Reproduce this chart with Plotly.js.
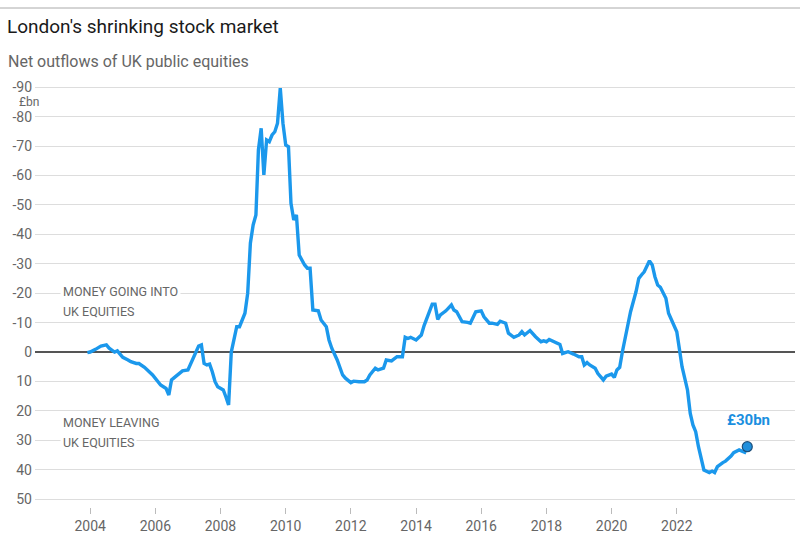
<!DOCTYPE html>
<html>
<head>
<meta charset="utf-8">
<script src="https://cdn.plot.ly/plotly-3.0.1.min.js"></script>
<style>
html,body{margin:0;padding:0;background:#fff;}
#chart{width:800px;height:542px;}
</style>
</head>
<body>
<div id="chart"></div>
<script>
// Net outflows of UK public equities, £bn (positive = money leaving)
const dates = [
 "2003-12","2004-01","2004-03","2004-05","2004-07","2004-08","2004-10","2004-11","2004-12",
 "2005-01","2005-03","2005-04","2005-06","2005-07","2005-09","2005-11","2005-12",
 "2006-03","2006-05","2006-06","2006-07","2006-08","2006-10","2006-11",
 "2007-01","2007-02","2007-04","2007-05","2007-06","2007-07","2007-08","2007-09","2007-10","2007-11","2007-12",
 "2008-02","2008-03","2008-04","2008-05","2008-07","2008-08","2008-10","2008-11","2008-12",
 "2009-01","2009-02","2009-03","2009-04","2009-05","2009-06","2009-07","2009-08","2009-09","2009-10","2009-11","2009-12",
 "2010-01","2010-02","2010-03","2010-04","2010-05","2010-06","2010-08","2010-09","2010-10","2010-11",
 "2011-01","2011-02","2011-04","2011-05","2011-06","2011-08","2011-10","2011-11",
 "2012-01","2012-02","2012-04","2012-06","2012-07","2012-08","2012-10","2012-11",
 "2013-01","2013-02","2013-04","2013-06","2013-08","2013-09","2013-10","2013-11",
 "2014-01","2014-03","2014-04","2014-06","2014-07","2014-08","2014-09","2014-10","2014-12",
 "2015-02","2015-03","2015-04","2015-06","2015-08","2015-09","2015-11",
 "2016-01","2016-02","2016-04","2016-05","2016-07","2016-08","2016-10","2016-11",
 "2017-01","2017-03","2017-04","2017-05","2017-07","2017-09","2017-11","2017-12",
 "2018-01","2018-02","2018-04","2018-06","2018-07","2018-09","2018-11",
 "2019-01","2019-02","2019-03","2019-04","2019-05","2019-07","2019-08","2019-10","2019-11",
 "2020-01","2020-02","2020-03","2020-04","2020-05","2020-06","2020-07","2020-08","2020-10","2020-11","2020-12",
 "2021-01","2021-03","2021-04","2021-05","2021-06","2021-07","2021-09","2021-10","2021-12",
 "2022-01","2022-02","2022-03","2022-05","2022-06","2022-07","2022-08","2022-09","2022-10","2022-11",
 "2023-01","2023-02","2023-03","2023-04","2023-06","2023-07","2023-09","2023-10","2023-12",
 "2024-02","2024-03"
];
const outflows = [
 0.2,0,-0.9,-2,-2.4,-1.3,0,-0.4,0.7,
 1.8,2.7,3.3,3.9,3.9,5.2,7.2,7.8,
 11.2,12.4,14.6,9.5,8.7,7.3,6.4,
 6.1,3.9,0,-2,-2.4,3.9,4.4,4.1,6.7,10.1,11.8,
 12.9,15.2,18,0,-8.6,-8.6,-13.2,-20,-37,
 -43.2,-46.6,-68.7,-76.1,-60.2,-72.1,-71.5,-73.8,-74.9,-77.8,-89.7,-77.8,
 -70.4,-69.8,-50.6,-44.9,-46.6,-33,-29.6,-28.5,-28.5,-14.3,
 -14,-10.9,-8.6,-4.1,-1.3,2.7,7.8,8.9,
 10.4,9.9,10.1,10.1,9.5,7.8,5.5,6.1,
 5.5,2.7,3,1.6,1.6,-5,-4.6,-5,
 -4.1,-5.8,-9,-14.3,-16.3,-16.3,-11.1,-12.6,-14,
 -16,-14.3,-13.7,-10.3,-10.1,-9.8,-13.7,
 -14,-12,-9.8,-9.8,-9.4,-10.5,-9.8,-6.4,
 -5,-5.8,-6.9,-5.8,-7.3,-5.2,-3.5,-3.8,
 -3.5,-4.3,-3.5,-2.6,0.5,-0.1,0.7,
 1.6,1.6,4.4,3.6,4.4,5.5,7.3,9.5,8.2,
 7.5,8.6,6.1,5.2,0,-4.6,-8,-13.7,-20.5,-25,-26.2,
 -27.3,-31,-29.6,-25.6,-22.8,-22,-18.3,-13.2,-9.2,
 -6.9,-0.7,5,12.9,20.9,24.8,27.1,32.2,36.7,40.1,
 41,40.5,41,39,37.6,37.1,35.4,34.2,33.3,
 34.1,32.2
];
const yTickVals = [-90,-80,-70,-60,-50,-40,-30,-20,-10,0,10,20,30,40,50];
const yTickText = ["-90","-80","-70","-60","-50","-40","-30","-20","-10","0","10","20","30","40","50"];
const xTickVals = ["2004-01-01","2006-01-01","2008-01-01","2010-01-01","2012-01-01","2014-01-01","2016-01-01","2018-01-01","2020-01-01","2022-01-01"];
const xTickText = ["2004","2006","2008","2010","2012","2014","2016","2018","2020","2022"];
const endLabel = "£30bn";

const FONT = "Roboto, 'Liberation Sans', sans-serif";
const BLUE = "#1b98ec";
const GREY = "#666666";

const lastDate = dates[dates.length-1];
const lastVal = outflows[outflows.length-1];

const traces = [
  {x: dates, y: outflows, type: "scatter", mode: "lines",
   line: {color: BLUE, width: 3.4, shape: "linear"}, hoverinfo: "skip", showlegend: false},
  {x: [lastDate], y: [lastVal], type: "scatter", mode: "markers",
   marker: {color: "#1f8fdc", size: 10, line: {color: "#1d4f7a", width: 1.2}},
   hoverinfo: "skip", showlegend: false}
];

const layout = {
  width: 800, height: 542,
  margin: {l: 35, r: 5, t: 80, b: 35},
  paper_bgcolor: "#fff", plot_bgcolor: "#fff",
  font: {family: FONT, color: GREY, size: 14},
  title: {text: "London's shrinking stock market", font: {family: FONT, size: 19, color: "#1a1a1a"},
          x: 7/800, xref: "container", xanchor: "left", y: 1 - 26/542, yref: "container", yanchor: "middle"},
  xaxis: {type: "date", range: ["2002-04-23", "2025-08-18"],
          tickvals: xTickVals, ticktext: xTickText,
          showgrid: false, zeroline: false, showline: false,
          ticks: "outside", ticklen: 6, tickcolor: "#bbbbbb", tickwidth: 1,
          tickfont: {family: FONT, size: 14, color: GREY}, fixedrange: true},
  yaxis: {range: [52.7, -92.5], tickvals: yTickVals, ticktext: yTickText,
          showgrid: true, gridcolor: "#dddddd", gridwidth: 1,
          zeroline: true, zerolinecolor: "#555555", zerolinewidth: 1.5,
          showline: false, ticks: "", ticklabelstandoff: 2,
          tickfont: {family: FONT, size: 14, color: GREY}, fixedrange: true},
  shapes: [
    {type: "line", xref: "paper", yref: "paper", x0: -35/760, x1: 765/760,
     y0: (507-8)/427, y1: (507-8)/427, line: {color: "#aaaaaa", width: 1}}
  ],
  annotations: [
    {text: "Net outflows of UK public equities", xref: "paper", yref: "paper",
     x: (6-35)/760, y: (507-62)/427, xanchor: "left", yanchor: "middle", showarrow: false,
     font: {family: FONT, size: 16, color: GREY}},
    {text: "£bn", xref: "paper", yref: "paper", x: (40-35)/760, y: (507-102.5)/427,
     xanchor: "right", yanchor: "middle", showarrow: false, borderpad: 0,
     font: {family: FONT, size: 12, color: GREY}},
    {text: "MONEY GOING INTO", xref: "paper", yref: "paper", x: (60-35)/760, y: (507-291)/427,
     xanchor: "left", yanchor: "middle", showarrow: false, bgcolor: "#fff", borderpad: 2,
     font: {family: FONT, size: 12.5, color: GREY}},
    {text: "UK EQUITIES", xref: "paper", yref: "paper", x: (60-35)/760, y: (507-311)/427,
     xanchor: "left", yanchor: "middle", showarrow: false, bgcolor: "#fff", borderpad: 2,
     font: {family: FONT, size: 12.5, color: GREY}},
    {text: "MONEY LEAVING", xref: "paper", yref: "paper", x: (60-35)/760, y: (507-422)/427,
     xanchor: "left", yanchor: "middle", showarrow: false, bgcolor: "#fff", borderpad: 2,
     font: {family: FONT, size: 12.5, color: GREY}},
    {text: "UK EQUITIES", xref: "paper", yref: "paper", x: (60-35)/760, y: (507-442)/427,
     xanchor: "left", yanchor: "middle", showarrow: false, bgcolor: "#fff", borderpad: 2,
     font: {family: FONT, size: 12.5, color: GREY}},
    {text: "<b>" + endLabel + "</b>", x: lastDate, y: lastVal, xref: "x", yref: "y",
     showarrow: false, yshift: 16, xshift: 1, xanchor: "center", yanchor: "bottom",
     font: {family: FONT, size: 15, color: "#1a8fe0"}}
  ]
};

Plotly.newPlot("chart", traces, layout, {staticPlot: true, displayModeBar: false});
</script>
</body>
</html>
